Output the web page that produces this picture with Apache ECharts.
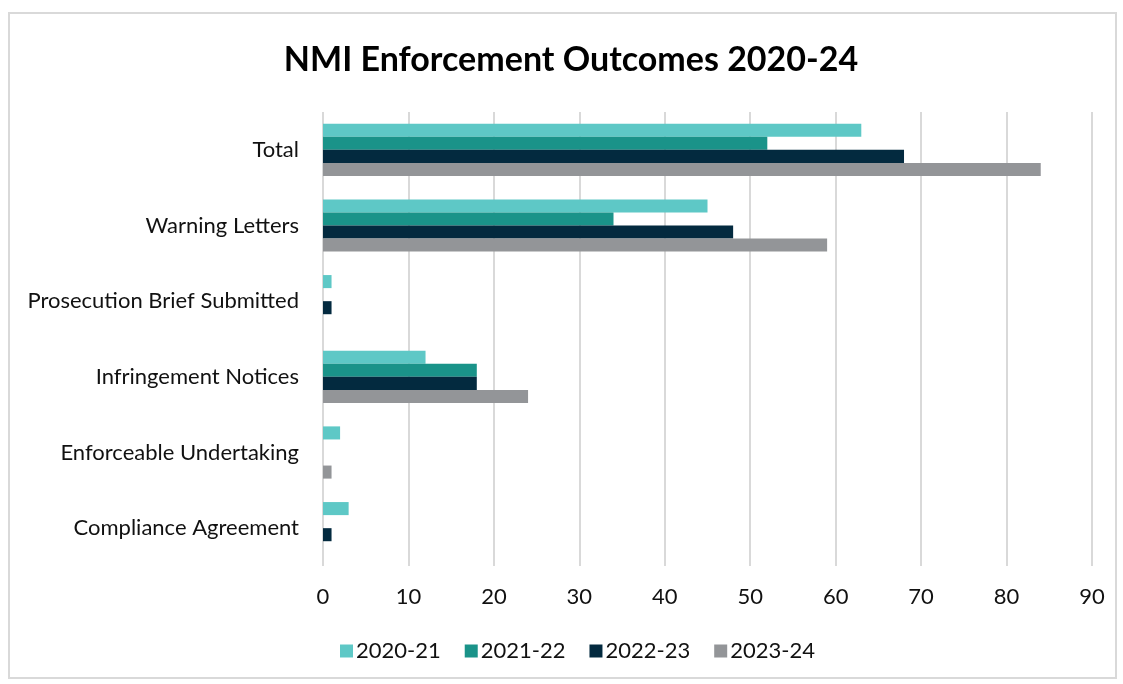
<!DOCTYPE html>
<html>
<head>
<meta charset="utf-8">
<script src="https://cdn.jsdelivr.net/npm/echarts@6/dist/echarts.min.js"></script>
<style>
html,body{margin:0;padding:0;background:#fff;}
#frame{position:absolute;left:8px;top:12px;width:1109px;height:667px;border:2px solid #d9d9d9;box-sizing:border-box;}
#chart{position:absolute;left:0;top:0;width:1123px;height:684px;}
</style>
</head>
<body>
<div id="frame"></div>
<div id="chart"></div>
<script>
const categories = ["Total", "Warning Letters", "Prosecution Brief Submitted", "Infringement Notices", "Enforceable Undertaking", "Compliance Agreement"];
const seriesNames = ["2020-21", "2021-22", "2022-23", "2023-24"];
const values2020 = [63, 45, 1, 12, 2, 3];
const values2021 = [52, 34, 0, 18, 0, 0];
const values2022 = [68, 48, 1, 18, 0, 1];
const values2023 = [84, 59, 0, 24, 1, 0];
const colors = ["#5ec8c6", "#1a9389", "#032a3f", "#939598"];
const allValues = [values2020, values2021, values2022, values2023];

const FONT = "Lato";
const chart = echarts.init(document.getElementById('chart'), null, {renderer: 'canvas'});
chart.setOption({
  animation: false,
  title: {
    text: "NMI Enforcement Outcomes 2020-24",
    left: 566,
    textAlign: 'center',
    top: 38,
    textStyle: {fontFamily: FONT, fontWeight: 'bold', fontSize: 34, color: '#000'}
  },
  legend: {
    bottom: 17,
    left: 335,
    itemWidth: 13,
    itemHeight: 13,
    itemGap: 24,
    icon: 'rect',
    textStyle: {fontFamily: FONT, fontSize: 22, color: '#111', padding: [0, 0, 0, -2]},
    data: seriesNames
  },
  grid: {left: 323, right: 31, top: 112, bottom: 118, containLabel: false},
  xAxis: {
    type: 'value',
    min: 0, max: 90, interval: 10,
    axisLine: {show: false},
    axisTick: {show: false},
    splitLine: {show: true, lineStyle: {color: '#d9d9d9', width: 2}},
    axisLabel: {fontFamily: FONT, fontSize: 22, color: '#111', margin: 20}
  },
  yAxis: {
    type: 'category',
    inverse: true,
    data: categories,
    axisLine: {show: false},
    axisTick: {show: false},
    axisLabel: {fontFamily: FONT, fontSize: 22, color: '#111', margin: 24}
  },
  series: seriesNames.map((n, i) => ({
    name: n,
    type: 'bar',
    data: allValues[i],
    barGap: '0%',
    barCategoryGap: '31%',
    itemStyle: {color: colors[i]}
  }))
});
</script>
</body>
</html>
